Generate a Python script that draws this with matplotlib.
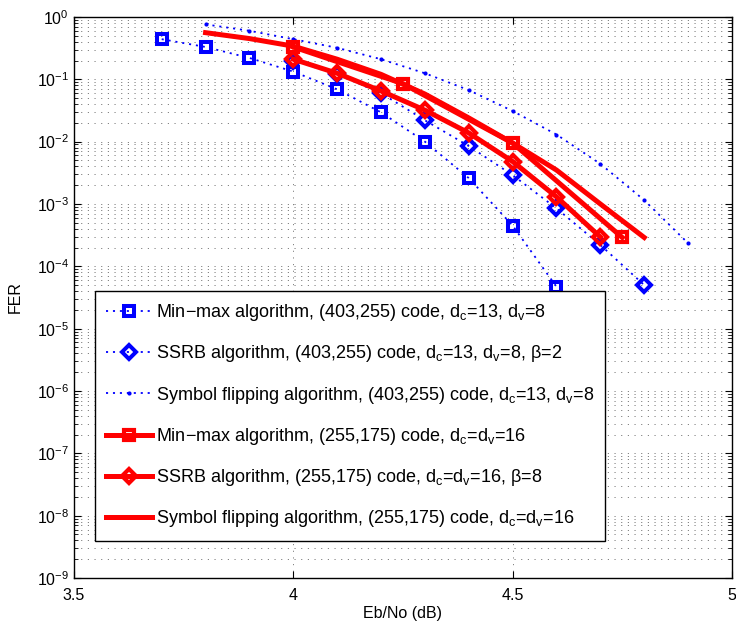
import matplotlib
matplotlib.use("Agg")
import matplotlib.pyplot as plt
from matplotlib.ticker import LogFormatterSciNotation, NullFormatter, FixedLocator

plt.rcParams['font.family'] = ['Liberation Sans', 'DejaVu Sans']
plt.rcParams['mathtext.fontset'] = 'custom'
plt.rcParams['mathtext.rm'] = 'Liberation Sans'
plt.rcParams['mathtext.it'] = 'Liberation Sans:italic'
plt.rcParams['mathtext.default'] = 'regular'
plt.rcParams['lines.scale_dashes'] = False

# (403,255) code, dc=13, dv=8
snr_mm_403 = [3.7, 3.8, 3.9, 4.0, 4.1, 4.2, 4.3, 4.4, 4.5, 4.6]
fer_mm_403 = [0.44, 0.33, 0.22, 0.133, 0.069, 0.0295, 0.010, 0.0026, 4.5e-4, 4.7e-5]

snr_ssrb_403 = [4.0, 4.1, 4.2, 4.3, 4.4, 4.5, 4.6, 4.7, 4.8]
fer_ssrb_403 = [0.2, 0.12, 0.06, 0.022, 0.0085, 0.0029, 8.5e-4, 2.2e-4, 5.0e-5]

snr_sf_403 = [3.8, 3.9, 4.0, 4.1, 4.2, 4.3, 4.4, 4.5, 4.6, 4.7, 4.8, 4.9]
fer_sf_403 = [0.76, 0.6, 0.44, 0.32, 0.21, 0.125, 0.067, 0.031, 0.013, 0.0044, 0.00115, 2.35e-4]

# (255,175) code, dc=dv=16
snr_mm_255 = [4.0, 4.25, 4.5, 4.75]
fer_mm_255 = [0.33, 0.085, 0.0095, 2.9e-4]

snr_ssrb_255 = [4.0, 4.1, 4.2, 4.3, 4.4, 4.5, 4.6, 4.7]
fer_ssrb_255 = [0.21, 0.125, 0.065, 0.032, 0.0138, 0.0048, 0.0013, 2.95e-4]

snr_sf_255 = [3.8, 3.9, 4.0, 4.1, 4.2, 4.3, 4.4, 4.5, 4.6, 4.7, 4.8]
fer_sf_255 = [0.56, 0.45, 0.34, 0.21, 0.12, 0.058, 0.024, 0.0095, 0.0035, 0.001, 2.9e-4]

labels = [
    'Min\u2212max algorithm, (403,255) code, d$_c$=13, d$_v$=8',
    'SSRB algorithm, (403,255) code, d$_c$=13, d$_v$=8, \u03b2=2',
    'Symbol flipping algorithm, (403,255) code, d$_c$=13, d$_v$=8',
    'Min\u2212max algorithm, (255,175) code, d$_c$=d$_v$=16',
    'SSRB algorithm, (255,175) code, d$_c$=d$_v$=16, \u03b2=8',
    'Symbol flipping algorithm, (255,175) code, d$_c$=d$_v$=16',
]

x_ticks = [3.5, 4, 4.5, 5]
decades = list(range(-9, 1))

blue = '#0000ff'
red = '#ff0000'
dotted = (0, (1.5, 3.5))

fig = plt.figure(figsize=(7.36, 6.28), dpi=100)
ax = fig.add_axes([0.1005, 0.0796, 0.894, 0.8934])

ax.semilogy(snr_mm_403, fer_mm_403, color=blue, linestyle=dotted, linewidth=1.3,
            marker='s', markersize=6.7, markeredgewidth=2.9, markerfacecolor='none',
            label=labels[0])
ax.semilogy(snr_ssrb_403, fer_ssrb_403, color=blue, linestyle=dotted, linewidth=1.3,
            marker='D', markersize=7.5, markeredgewidth=2.9, markerfacecolor='none',
            label=labels[1])
ax.semilogy(snr_sf_403, fer_sf_403, color=blue, linestyle=dotted, linewidth=1.3,
            marker='o', markersize=3, markeredgewidth=0, markerfacecolor=blue,
            label=labels[2])
ax.semilogy(snr_mm_255, fer_mm_255, color=red, linewidth=3.6,
            marker='s', markersize=7, markeredgewidth=3, markerfacecolor='none',
            label=labels[3])
ax.semilogy(snr_ssrb_255, fer_ssrb_255, color=red, linewidth=3.6,
            marker='D', markersize=7.5, markeredgewidth=3, markerfacecolor='none',
            label=labels[4])
ax.semilogy(snr_sf_255, fer_sf_255, color=red, linewidth=3.6, label=labels[5])

ax.set_xlim(3.5, 5)
ax.set_ylim(1e-9, 1)
ax.xaxis.set_major_locator(FixedLocator(x_ticks))
ax.set_xticklabels([f'{v:g}' for v in x_ticks])
# ticks only inside the range: decades plus 2..9 minor steps
ax.yaxis.set_major_locator(FixedLocator([10.0 ** e for e in decades]))
ax.yaxis.set_major_formatter(LogFormatterSciNotation())
ax.yaxis.set_minor_locator(FixedLocator([k * 10.0 ** e for e in decades[:-1]
                                         for k in range(2, 10)]))
ax.yaxis.set_minor_formatter(NullFormatter())

ax.tick_params(which='both', direction='in', top=True, right=True, labelsize=11.5)
ax.tick_params(which='major', length=5, width=0.8)
ax.tick_params(which='minor', length=3, width=0.6)
ax.tick_params(axis='x', pad=7)
for s in ax.spines.values():
    s.set_linewidth(1.0)

grid_style = dict(color='#666666', linestyle=(0, (0.8, 4)), linewidth=0.6)
ax.grid(True, which='major', **grid_style)
ax.grid(True, which='minor', axis='y', **grid_style)
ax.set_axisbelow(True)

ax.set_xlabel('Eb/No (dB)', fontsize=11.5, labelpad=2)
ax.set_ylabel('FER', fontsize=11.5, labelpad=10)

leg = ax.legend(loc='upper left', bbox_to_anchor=(95 / 736, 1 - 291 / 628),
                bbox_transform=fig.transFigure, fontsize=13, frameon=True,
                fancybox=False, framealpha=1, edgecolor='black',
                handlelength=2.55, handletextpad=0.2, labelspacing=1.12,
                borderpad=0.62, borderaxespad=0, numpoints=1)
leg.get_frame().set_linewidth(1.0)

fig.savefig('out.png', dpi=100)
